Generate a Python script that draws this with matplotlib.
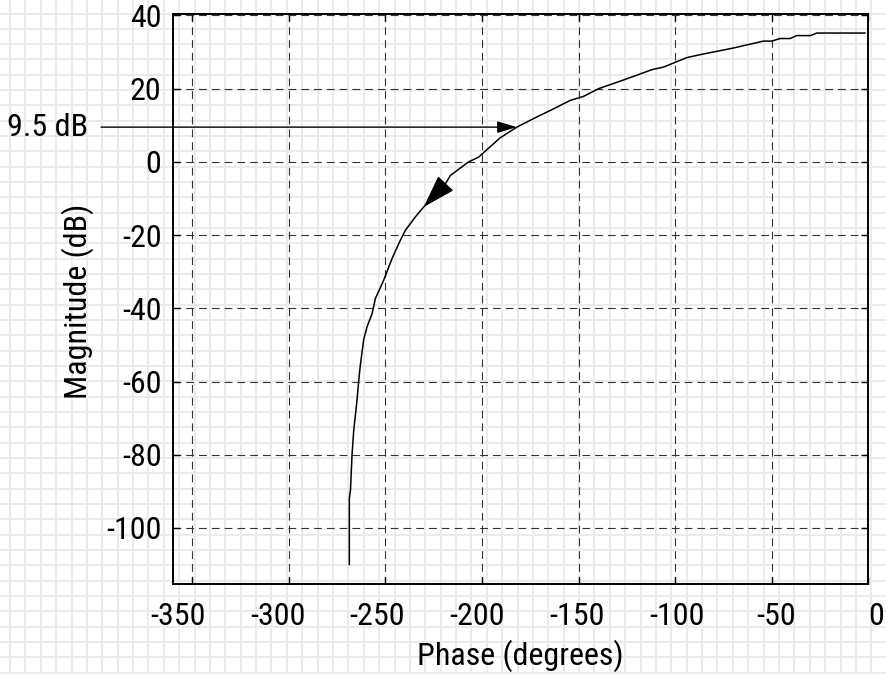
import numpy as np
import matplotlib
matplotlib.use("Agg")
import matplotlib.pyplot as plt

plt.rcParams['font.family'] = ['Roboto Condensed', 'Archivo Narrow', 'Liberation Sans', 'DejaVu Sans']
plt.rcParams['axes.unicode_minus'] = False

# ---- data ----
phase_deg = [-268.6, -268.6, -268.0, -267.2, -266.3, -264.6, -263.8, -262.9, -261.2,
             -259.4, -256.8, -255.1, -250.8, -246.5, -242.2, -239.6, -234.4, -230.1,
             -219.8, -216.3, -206.9, -201.7, -190.5, -181.9, -171.5, -162.9, -154.3,
             -147.4, -139.6, -125.0, -112.0, -106.0, -100.9, -93.9, -87.0, -69.9,
             -54.3, -50.0, -45.7, -40.5, -37.1, -30.0, -26.7, -1.8]
magnitude_db = [-110.0, -91.9, -89.6, -80.0, -73.2, -65.0, -60.0, -55.5, -48.6,
                -45.0, -41.4, -37.3, -32.3, -26.4, -21.4, -18.7, -15.0, -12.3,
                -6.8, -3.7, 0.0, 1.3, 6.6, 9.5, 12.3, 14.5, 16.8,
                17.9, 20.0, 22.7, 25.2, 25.9, 27.0, 28.5, 29.3, 31.1,
                33.0, 33.0, 33.7, 33.7, 34.5, 34.5, 35.2, 35.2]
x_ticks = [-350, -300, -250, -200, -150, -100, -50, 0]
y_ticks = [40, 20, 0, -20, -40, -60, -80, -100]
marker_db = 9.5
marker_label = "9.5 dB"
dir_arrow_db = (-6.0, -12.3)   # direction arrow (base, tip) magnitudes
x_label = "Phase (degrees)"
y_label = "Magnitude (dB)"

FS = 23
W, H = 886, 674
fig = plt.figure(figsize=(W / 100, H / 100), dpi=100)
fig.patch.set_facecolor('white')

# background graph-paper pattern
bg = fig.add_axes([0, 0, 1, 1], zorder=0)
bg.set_xlim(0, W)
bg.set_ylim(H, 0)
bg.axis('off')
for gx in np.arange(10, W, 15.38):
    bg.axvline(gx, color='#ebebeb', lw=1.4)
for gy in np.arange(13.5, H, 15.33):
    bg.axhline(gy, color='#ebebeb', lw=1.4)

left, right, top, bottom = 172.7, 868.4, 14.0, 584.0
ax = fig.add_axes([left / W, 1 - bottom / H, (right - left) / W, (bottom - top) / H], zorder=2)
ax.set_facecolor('none')
ax.set_xlim(-360, 0)
ax.set_ylim(-115.3, 40.4)

ax.plot(phase_deg, magnitude_db, color='black', lw=1.1, zorder=3)

ax.set_xticks(x_ticks)
ax.set_yticks(y_ticks)
ax.grid(True, color='#333333', lw=0.8, linestyle=(0, (7, 4.5)))
ax.tick_params(direction='in', length=5, width=1.0, top=True, right=True,
               labelsize=FS, pad=8, labelbottom=False)
for s in ax.spines.values():
    s.set_linewidth(1.4)
fig.text(78 / W, 1 - 301 / H, y_label, fontsize=FS, rotation=90,
         ha='center', va='center')

# x tick labels on a slightly wider frameless axes (as in reference)
lab = fig.add_axes([158 / W, 1 - bottom / H, (876 - 158) / W, (bottom - top) / H], zorder=1)
lab.set_facecolor('none')
lab.set_xlim(-360, 0)
lab.set_xticks(x_ticks)
lab.set_xticklabels([str(v) for v in x_ticks])
lab.set_yticks([])
for s in lab.spines.values():
    s.set_visible(False)
lab.tick_params(axis='x', length=0, labelsize=FS, pad=13)
fig.text((left + right) / 2 / W, 1 - 656 / H, x_label, fontsize=FS,
         ha='center', va='center')

# 9.5 dB marker arrow
mag_arr = np.array(magnitude_db)
ph_arr = np.array(phase_deg)
marker_phase = np.interp(marker_db, mag_arr, ph_arr)
ax.annotate('', xy=(marker_phase, marker_db), xycoords='data',
            xytext=(-0.103, marker_db), textcoords=ax.get_yaxis_transform(),
            arrowprops=dict(arrowstyle='-|>,head_length=1.2,head_width=0.36',
                            color='black', lw=1.0, shrinkA=0, shrinkB=0,
                            mutation_scale=10), annotation_clip=False, zorder=4)
ax.text(-0.1218, marker_db, marker_label, transform=ax.get_yaxis_transform(),
        ha='right', va='center', fontsize=FS, clip_on=False)

# direction arrow on the curve
b_db, t_db = dir_arrow_db
base = (np.interp(b_db, mag_arr, ph_arr), b_db)
tip = (np.interp(t_db, mag_arr, ph_arr), t_db)
ax.annotate('', xy=tip, xytext=base,
            arrowprops=dict(arrowstyle='-|>,head_length=2.1,head_width=0.67',
                            color='black', lw=1.0, shrinkA=0, shrinkB=0,
                            mutation_scale=10), zorder=4)

fig.savefig('out.png', dpi=100, facecolor='white')
